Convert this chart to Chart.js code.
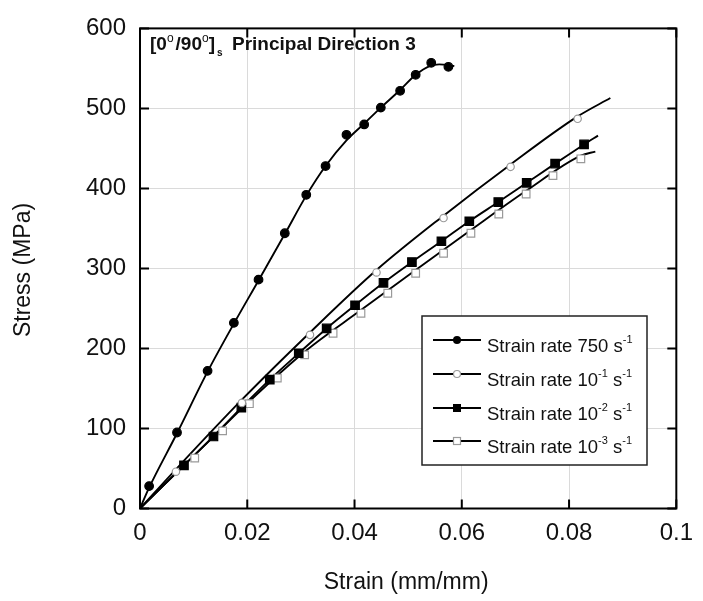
<!DOCTYPE html>
<html lang="en">
<head>
  <meta charset="UTF-8">
  <title>Stress-Strain [0/90]s Principal Direction 3</title>
  <script src="https://cdn.jsdelivr.net/npm/chart.js"></script>
  <style>
    html, body { margin: 0; padding: 0; background: #fff; }
    #wrap { width: 703px; height: 601px; }
  </style>
</head>
<body>
  <div id="wrap"><canvas id="stressChart" width="703" height="601"></canvas></div>

  <script>
    // axis ticks
    const strainTicks = [0, 0.02, 0.04, 0.06, 0.08, 0.1];
    const stressTicks = [0, 100, 200, 300, 400, 500, 600];

    // strain rate 750 /s - markers and fitted curve
    const r750MarkStrain = [0.0017, 0.0069, 0.0126, 0.0175, 0.0221, 0.027, 0.031, 0.0346, 0.0385, 0.0418, 0.0449, 0.0485, 0.0514, 0.0543, 0.0575];
    const r750MarkStress = [28, 95, 172, 232, 286, 344, 392, 428, 467, 480, 501, 522, 542, 557, 552];
    const r750LineStrain = [0, 0.0017, 0.0069, 0.0126, 0.0175, 0.0221, 0.027, 0.031, 0.0346, 0.0385, 0.0418, 0.0449, 0.0485, 0.0514, 0.054, 0.0558, 0.0586];
    const r750LineStress = [0, 26, 94, 171, 231, 285, 343, 391, 428, 460, 481, 501, 523, 542, 553, 555, 553];

    // strain rate 10^-1 /s
    const r1MarkStrain = [0.0067, 0.019, 0.0317, 0.0441, 0.0566, 0.0691, 0.0816];
    const r1MarkStress = [46, 132, 217, 295, 363, 427, 487];
    const r1LineStrain = [0, 0.0067, 0.019, 0.0317, 0.0441, 0.0566, 0.0691, 0.0816, 0.0877];
    const r1LineStress = [0, 49, 136, 220, 298, 366, 430, 490, 513];

    // strain rate 10^-2 /s
    const r2MarkStrain = [0.0082, 0.0137, 0.0189, 0.0242, 0.0296, 0.0348, 0.0401, 0.0454, 0.0507, 0.0562, 0.0614, 0.0668, 0.0721, 0.0774, 0.0828];
    const r2MarkStress = [54, 90, 126, 161, 194, 225, 254, 282, 308, 334, 359, 383, 407, 431, 455];
    const r2LineStrain = [0, 0.0082, 0.0137, 0.0189, 0.0242, 0.0296, 0.0348, 0.0401, 0.0454, 0.0507, 0.0562, 0.0614, 0.0668, 0.0721, 0.0774, 0.0828, 0.0854];
    const r2LineStress = [0, 54, 90, 126, 161, 194, 225, 254, 282, 308, 334, 359, 383, 407, 431, 455, 466];

    // strain rate 10^-3 /s
    const r3MarkStrain = [0.0102, 0.0154, 0.0204, 0.0256, 0.0307, 0.036, 0.0412, 0.0462, 0.0514, 0.0566, 0.0617, 0.0669, 0.072, 0.077, 0.0822];
    const r3MarkStress = [63, 97, 131, 163, 192, 219, 244, 269, 294, 319, 344, 368, 393, 416, 437];
    const r3LineStrain = [0, 0.0102, 0.0204, 0.0307, 0.0412, 0.0514, 0.0617, 0.072, 0.0822, 0.0849];
    const r3LineStress = [0, 67, 134, 196, 248, 298, 348, 397, 441, 446];

    const pts = (xs, ys) => xs.map((x, i) => ({ x: x, y: ys[i] }));
    const FONT = "'Liberation Sans', Arial, sans-serif";
    const GRAY = '#9a9a9a';

    function curve(xs, ys) {
      return {
        data: pts(xs, ys),
        borderColor: '#000',
        borderWidth: 1.9,
        pointRadius: 0,
        cubicInterpolationMode: 'monotone',
        showLine: true,
        fill: false,
        order: 2
      };
    }

    function marks(xs, ys, style, radius, fillCol, strokeCol) {
      return {
        data: pts(xs, ys),
        showLine: false,
        pointStyle: style,
        pointRadius: radius,
        pointBackgroundColor: fillCol,
        pointBorderColor: strokeCol,
        pointBorderWidth: 1.2,
        order: 1
      };
    }

    // frame, inward ticks, axis titles, annotation and legend
    const decor = {
      id: 'decor',
      afterDraw(chart) {
        const ctx = chart.ctx;
        const a = chart.chartArea;
        const xs = chart.scales.x, ys = chart.scales.y;
        ctx.save();
        ctx.strokeStyle = '#000';
        ctx.lineWidth = 2;
        ctx.strokeRect(a.left, a.top, a.right - a.left, a.bottom - a.top);

        const tl = 9;
        ctx.beginPath();
        strainTicks.forEach(v => {
          const px = xs.getPixelForValue(v);
          ctx.moveTo(px, a.bottom); ctx.lineTo(px, a.bottom - tl);
          ctx.moveTo(px, a.top); ctx.lineTo(px, a.top + tl);
        });
        stressTicks.forEach(v => {
          const py = ys.getPixelForValue(v);
          ctx.moveTo(a.left, py); ctx.lineTo(a.left + tl, py);
          ctx.moveTo(a.right, py); ctx.lineTo(a.right - tl, py);
        });
        ctx.stroke();

        // axis titles
        ctx.fillStyle = '#111';
        ctx.font = '23px ' + FONT;
        ctx.textAlign = 'center';
        ctx.textBaseline = 'middle';
        ctx.fillText('Strain (mm/mm)', (a.left + a.right) / 2 - 2, 583);
        ctx.save();
        ctx.translate(24, 270);
        ctx.rotate(-Math.PI / 2);
        ctx.fillText('Stress (MPa)', 0, 0);
        ctx.restore();

        // annotation
        ctx.textAlign = 'left';
        ctx.textBaseline = 'alphabetic';
        let x = 150;
        const base = 50;
        const seg = (txt, size, dy, bold) => {
          ctx.font = (bold ? 'bold ' : '') + size + 'px ' + FONT;
          ctx.fillText(txt, x, base + dy);
          x += ctx.measureText(txt).width;
        };
        seg('[0', 19, 0, true);
        seg('o', 12, -8, false);
        x += 2;
        seg('/90', 19, 0, true);
        seg('o', 12, -8, false);
        seg(']', 19, 0, true);
        x += 2;
        seg('s', 10, 6, true);
        x = 232;
        seg('Principal Direction 3', 19, 0, true);

        // legend
        const bx = 422, by = 316, bw = 225, bh = 149;
        ctx.fillStyle = '#fff';
        ctx.fillRect(bx, by, bw, bh);
        ctx.strokeStyle = '#222';
        ctx.lineWidth = 1.5;
        ctx.strokeRect(bx, by, bw, bh);

        const rows = [
          { base: 352, main: 'Strain rate 750 s', exp: null, style: 'dot' },
          { base: 386, main: 'Strain rate 10', exp: '-1', style: 'ocircle' },
          { base: 420, main: 'Strain rate 10', exp: '-2', style: 'square' },
          { base: 453, main: 'Strain rate 10', exp: '-3', style: 'osquare' }
        ];
        rows.forEach(r => {
          const ly = r.base - 12;
          ctx.strokeStyle = '#000';
          ctx.lineWidth = 1.8;
          ctx.beginPath();
          ctx.moveTo(433, ly); ctx.lineTo(481, ly);
          ctx.stroke();
          ctx.lineWidth = 1.2;
          if (r.style === 'dot') {
            ctx.fillStyle = '#000';
            ctx.beginPath(); ctx.arc(457, ly, 4, 0, Math.PI * 2); ctx.fill();
          } else if (r.style === 'ocircle') {
            ctx.fillStyle = '#fff'; ctx.strokeStyle = GRAY;
            ctx.beginPath(); ctx.arc(457, ly, 3.5, 0, Math.PI * 2); ctx.fill(); ctx.stroke();
          } else if (r.style === 'square') {
            ctx.fillStyle = '#000';
            ctx.fillRect(453, ly - 4, 8, 8);
          } else {
            ctx.fillStyle = '#fff'; ctx.strokeStyle = GRAY;
            ctx.fillRect(453.5, ly - 3.5, 7, 7); ctx.strokeRect(453.5, ly - 3.5, 7, 7);
          }
          ctx.fillStyle = '#111';
          x = 487;
          const b0 = r.base;
          const put = (txt, size, dy) => {
            ctx.font = size + 'px ' + FONT;
            ctx.fillText(txt, x, b0 + dy);
            x += ctx.measureText(txt).width;
          };
          if (r.exp) {
            put(r.main, 18.5, 0);
            put(r.exp, 11, -9);
            put(' s', 18.5, 0);
          } else {
            put(r.main, 18.5, 0);
          }
          put('-1', 11, -9);
        });
        ctx.restore();
      }
    };

    new Chart(document.getElementById('stressChart').getContext('2d'), {
      type: 'scatter',
      data: {
        datasets: [
          curve(r750LineStrain, r750LineStress),
          curve(r1LineStrain, r1LineStress),
          curve(r2LineStrain, r2LineStress),
          curve(r3LineStrain, r3LineStress),
          marks(r750MarkStrain, r750MarkStress, 'circle', 4.3, '#000', '#000'),
          marks(r1MarkStrain, r1MarkStress, 'circle', 3.7, '#fff', GRAY),
          marks(r2MarkStrain, r2MarkStress, 'rect', 6, '#000', '#000'),
          marks(r3MarkStrain, r3MarkStress, 'rect', 5.4, '#fff', GRAY)
        ]
      },
      options: {
        responsive: false,
        animation: false,
        events: [],
        layout: { padding: { top: 16, right: 21, left: 0, bottom: 0 } },
        plugins: { legend: { display: false }, tooltip: { enabled: false } },
        scales: {
          x: {
            type: 'linear',
            min: 0, max: 0.1,
            afterBuildTicks: s => { s.ticks = strainTicks.map(v => ({ value: v })); },
            afterFit: s => { s.height = 92.5; },
            grid: { color: '#dadada', lineWidth: 1, drawTicks: false },
            border: { display: false },
            ticks: {
              padding: 10,
              color: '#111',
              font: { family: FONT, size: 24 },
              callback: v => String(v)
            }
          },
          y: {
            type: 'linear',
            min: 0, max: 600,
            afterBuildTicks: s => { s.ticks = stressTicks.map(v => ({ value: v })); },
            afterFit: s => { s.width = 140; },
            grid: { color: '#dadada', lineWidth: 1, drawTicks: false },
            border: { display: false },
            ticks: {
              padding: 14,
              color: '#111',
              font: { family: FONT, size: 24 },
              callback: v => String(v)
            }
          }
        }
      },
      plugins: [decor]
    });
  </script>
</body>
</html>
